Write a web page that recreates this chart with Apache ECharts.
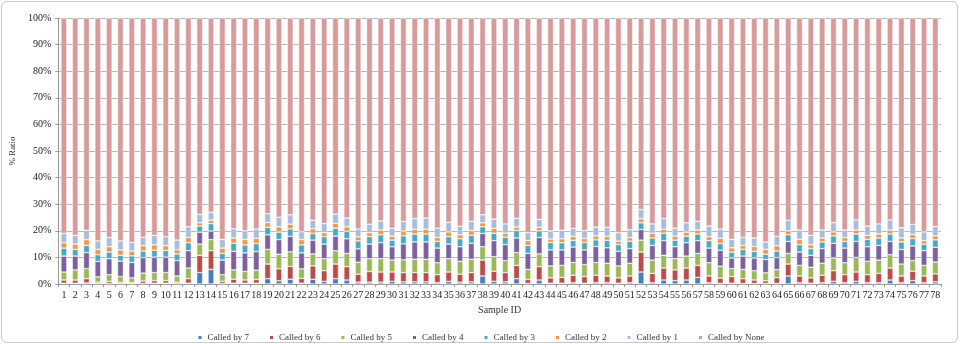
<!DOCTYPE html>
<html lang="en">
<head>
    <meta charset="UTF-8">
    <title>Called by ratio per sample</title>
    <script src="https://cdn.jsdelivr.net/npm/echarts@6/dist/echarts.min.js"></script>
</head>
<style>
    *{
        margin: 0px;
    }
    body{
        background: #fff;
    }
    /*外框*/
    #frame{
        position: absolute;
        left: 1px;
        top: 1px;
        width: 955px;
        height: 340px;
        border: 1px solid #c8c8c8;
        border-radius: 6px;
    }
    #main{
        position: absolute;
        left: 0px;
        top: 0px;
        width: 961px;
        height: 344px;
    }
</style>
<body>
<div id="frame"></div>
<div id="main"></div>
<script type="text/javascript">
    // sample ids 1..78
    var samples = [];
    for (var i = 1; i <= 78; i++) samples.push(String(i));

    var yTicks = ['0%', '10%', '20%', '30%', '40%', '50%', '60%', '70%', '80%', '90%', '100%'];

    var seriesNames = ['Called by 7', 'Called by 6', 'Called by 5', 'Called by 4',
        'Called by 3', 'Called by 2', 'Called by 1', 'Called by None'];

    // percent per sample
    var by7 = [0.3,0.3,0.4,0.2,0.2,0.2,0.2,0.2,0.3,0.3,0.2,0.3,4.3,5.5,0.2,0.3,0.3,0.3,2.0,1.2,
        1.8,0.3,1.8,1.0,2.0,1.5,0.7,0.7,0.7,1.0,0.8,0.8,0.8,0.5,1.0,0.7,0.8,3.0,1.0,0.8,
        2.0,0.2,1.5,0.3,0.3,0.5,0.3,0.5,0.5,0.3,0.5,4.5,0.5,1.5,1.3,1.5,2.5,0.5,0.2,0.3,
        0.2,0.2,0.2,0.2,3.0,0.5,0.3,0.5,1.0,0.5,1.0,0.5,0.5,1.5,0.5,1.3,0.5,0.8];
    var by6 = [1.2,1.2,1.6,0.5,0.8,0.4,0.3,0.9,1.0,1.0,0.5,1.7,6.5,7.0,0.8,1.5,1.2,1.4,5.5,4.5,
        4.8,1.8,5.0,4.0,5.5,5.0,3.0,4.0,3.8,3.5,3.5,3.5,3.5,3.0,3.5,3.0,3.5,6.0,3.8,3.5,
        5.0,1.5,5.0,2.0,2.2,2.8,2.5,2.8,2.5,2.0,2.5,7.5,3.5,4.5,4.0,4.5,4.5,2.5,2.0,2.5,
        1.8,1.3,1.0,2.2,4.5,2.5,2.0,2.8,4.0,3.0,3.5,3.0,3.5,4.5,2.5,3.5,2.5,3.0];
    var by5 = [3.0,3.8,3.8,2.0,2.5,2.2,1.8,3.0,3.0,3.0,2.3,4.0,4.2,4.2,2.5,3.5,3.2,3.5,5.5,5.5,
        5.5,3.6,4.5,4.5,5.0,5.0,4.5,4.8,5.0,4.5,4.8,5.0,5.0,4.5,5.0,4.8,5.0,5.0,5.5,4.5,
        4.8,3.8,4.8,4.5,4.5,4.8,4.5,4.8,4.8,4.5,4.8,4.5,5.0,4.8,4.2,4.5,4.5,5.0,4.5,3.0,
        3.5,3.5,3.0,3.0,4.0,4.0,4.0,4.5,4.8,4.5,5.5,5.0,5.0,5.0,4.5,4.0,4.0,4.5];
    var by4 = [6.0,5.2,6.0,5.8,6.0,5.8,5.8,5.8,5.8,5.8,5.8,6.5,4.5,3.2,5.5,7.0,7.0,7.0,5.5,5.5,
        5.8,6.0,5.2,5.5,5.5,5.5,5.0,5.5,6.0,5.0,6.0,6.5,6.5,5.5,5.5,5.5,6.0,5.0,6.0,6.0,
        5.5,6.0,6.2,6.0,5.8,5.8,5.5,6.0,5.8,5.5,5.5,4.0,5.5,5.5,4.5,5.0,4.8,5.5,6.0,4.0,
        5.0,4.8,5.0,4.5,4.5,5.0,4.5,5.5,5.5,5.5,6.0,5.5,5.5,5.0,5.5,5.5,5.5,5.5];
    var by3 = [3.0,2.5,2.7,2.5,2.5,2.2,2.5,2.5,2.6,2.5,2.5,3.0,2.3,2.8,2.5,3.0,3.0,3.0,2.8,2.8,
        2.8,3.0,2.5,2.8,3.0,2.8,3.0,2.8,3.0,2.5,3.0,3.0,3.0,2.5,2.8,3.0,3.0,2.5,2.8,2.8,
        2.8,3.0,2.5,2.8,2.7,2.5,2.8,2.5,2.8,2.5,2.8,2.5,2.8,2.8,2.5,2.5,2.5,2.8,2.5,2.2,
        2.5,2.5,2.0,2.5,2.5,2.8,2.5,2.5,2.8,2.5,2.8,2.8,2.8,2.8,2.8,2.8,2.5,2.8];
    var by2 = [2.0,2.0,2.2,2.0,2.0,2.0,1.8,2.0,2.0,1.8,1.6,2.0,1.2,1.3,2.0,2.0,2.0,2.0,1.8,2.0,
        1.8,2.0,1.8,1.5,1.8,1.7,1.5,1.5,1.8,1.5,1.8,1.8,1.8,1.5,1.8,1.5,1.8,1.5,1.8,1.5,
        1.3,1.8,1.3,1.3,1.5,1.5,1.5,1.5,1.5,1.3,1.3,1.5,1.8,1.5,1.5,1.5,1.5,1.5,2.0,1.6,
        1.5,1.8,1.8,2.0,1.5,2.0,1.5,1.5,1.5,1.5,1.5,1.5,1.5,1.5,1.5,1.5,1.3,1.5];
    var by1 = [3.5,3.3,3.5,3.2,3.5,3.4,3.2,3.2,3.6,3.4,3.6,4.0,3.2,3.0,3.3,3.5,3.3,3.5,3.3,3.6,
        3.5,3.0,3.2,3.4,3.5,3.3,3.0,3.2,3.4,3.0,3.6,4.0,4.2,3.5,3.6,3.2,3.5,3.0,3.5,3.5,
        3.3,3.0,3.0,3.0,3.2,3.0,3.0,3.3,3.4,3.2,3.0,3.5,3.5,4.0,3.0,3.5,3.3,4.0,3.5,3.2,
        3.0,3.2,2.8,3.5,4.0,3.5,3.5,3.0,3.5,2.8,3.8,3.5,3.8,3.8,3.8,3.8,3.3,3.5];

    // the rest up to 100%
    var byNone = [];
    for (var k = 0; k < samples.length; k++) {
        var s = by7[k] + by6[k] + by5[k] + by4[k] + by3[k] + by2[k] + by1[k];
        byNone.push(+(100 - s).toFixed(1));
    }

    var colors = ['#4a7ebb', '#be4b48', '#98b954', '#7d60a0', '#46aac5', '#f69546', '#a7bde0', '#d99a9b'];
    var dataList = [by7, by6, by5, by4, by3, by2, by1, byNone];

    var series = [];
    for (var j = 0; j < seriesNames.length; j++) {
        series.push({
            name: seriesNames[j],
            type: 'bar',
            stack: 'all',
            barWidth: '52%',
            data: dataList[j],
            itemStyle: {color: colors[j], borderColor: '#ffffff', borderWidth: 0.5}
        });
    }

    var myChart = echarts.init(document.getElementById('main'));
    var option = {
        animation: false,
        color: colors,
        textStyle: {fontFamily: 'Liberation Serif', color: '#222'},
        grid: {left: 56, right: 20, top: 18, bottom: 60},
        legend: {
            data: seriesNames,
            bottom: -3,
            left: 'center',
            itemWidth: 5,
            itemHeight: 5,
            itemGap: 19,
            icon: 'rect',
            textStyle: {fontFamily: 'Liberation Serif', fontSize: 9, color: '#333'}
        },
        xAxis: {
            type: 'category',
            data: samples,
            name: 'Sample ID',
            nameLocation: 'middle',
            nameGap: 14,
            nameTextStyle: {fontFamily: 'Liberation Serif', fontSize: 10, color: '#333'},
            axisLine: {lineStyle: {color: '#999'}},
            axisTick: {show: true, alignWithLabel: false, length: 3, lineStyle: {color: '#999'}},
            axisLabel: {interval: 0, fontSize: 10, color: '#222', margin: 6}
        },
        yAxis: {
            type: 'value',
            min: 0,
            max: 100,
            interval: 10,
            name: '% Ratio',
            nameLocation: 'middle',
            nameGap: 39,
            nameTextStyle: {fontFamily: 'Liberation Serif', fontSize: 9, color: '#333'},
            axisLine: {show: true, lineStyle: {color: '#999'}},
            axisTick: {show: true, length: 3, lineStyle: {color: '#999'}},
            axisLabel: {
                fontSize: 10, color: '#222', margin: 7,
                formatter: function (v) { return yTicks[Math.round(v / 10)]; }
            },
            splitLine: {lineStyle: {color: '#b8b8b8'}}
        },
        series: series
    };
    myChart.setOption(option);
</script>
</body>
</html>
